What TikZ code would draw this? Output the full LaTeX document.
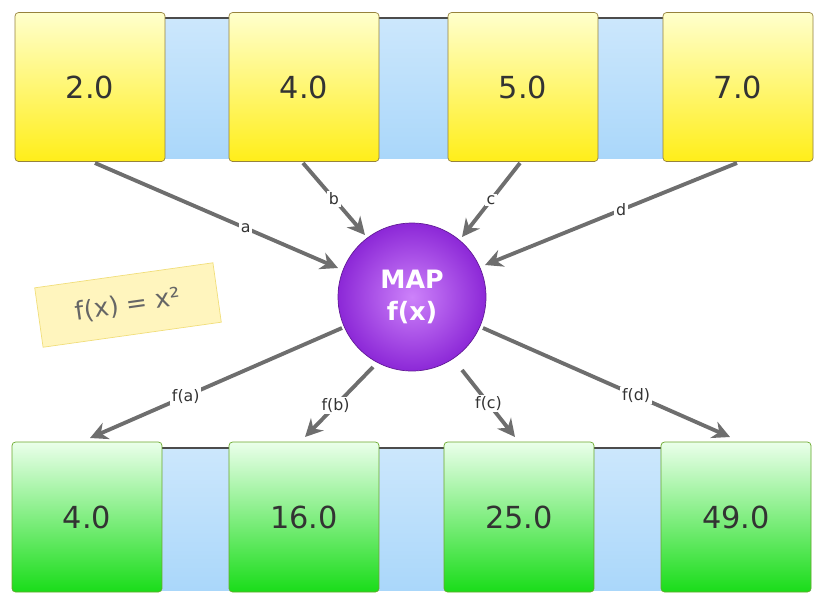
\documentclass[tikz,border=0pt]{standalone}
\usepackage{fontspec}
\setmainfont{DejaVu Sans}
\usetikzlibrary{arrows.meta}
\definecolor{boxedge}{RGB}{150,130,60}
\definecolor{bandblue}{RGB}{170,215,250}
\definecolor{arrowgray}{RGB}{110,110,110}
\definecolor{mapin}{RGB}{205,130,250}
\definecolor{mapout}{RGB}{140,40,215}
\definecolor{notefill}{RGB}{255,245,190}
\tikzset{
  inbox/.style={draw=boxedge, rounded corners=2pt, minimum width=3cm, minimum height=2.98cm,
    top color=yellow!20, bottom color=yellow!85!orange!90!white, font=\LARGE, text=black!80},
  outbox/.style={draw=boxedge!70!green, rounded corners=2pt, minimum width=3cm, minimum height=3cm,
    top color=green!8, bottom color=green!85!black!90, font=\LARGE, text=black!80},
  maparrow/.style={draw=arrowgray, line width=2.2pt, -{Stealth[length=10pt,width=10pt]}},
  tag/.style={fill=white, inner sep=1pt, font=\small, text=black!80}
}
\begin{document}
\begin{tikzpicture}[x=0.02cm, y=-0.02cm]
  \useasboundingbox (0,0) rectangle (834,606);
  % bands behind the boxes
  \fill[top color=bandblue!60, bottom color=bandblue] (15,18) rectangle (813,158);
  \draw[black!70, line width=1pt] (15,18) -- (813,18);
  \fill[top color=bandblue!60, bottom color=bandblue] (12,448) rectangle (811,590);
  \draw[black!70, line width=1pt] (12,448) -- (811,448);
  % input values
  \node[inbox] (in a) at (90,87) {2.0};
  \node[inbox] (in b) at (304,87) {4.0};
  \node[inbox] (in c) at (523,87) {5.0};
  \node[inbox] (in d) at (738,87) {7.0};
  % output values
  \node[outbox] (out a) at (87,517) {4.0};
  \node[outbox] (out b) at (304,517) {16.0};
  \node[outbox] (out c) at (519,517) {25.0};
  \node[outbox] (out d) at (736,517) {49.0};
  % map
  \node[circle, draw=mapout!70!black, minimum size=2.96cm, inner color=mapin, outer color=mapout,
    text=white, font=\Large\bfseries, align=center] (map) at (412,297) {MAP\\f(x)};
  \node[rotate=8, draw=yellow!60!brown!60, fill=notefill, minimum width=3.6cm, minimum height=1.2cm,
    font=\Large, text=black!60] (rule) at (128,305) {f(x) = x²};
  % arrows in
  \draw[maparrow] (95,163) -- node[tag, pos=0.62] {a} (338,268);
  \draw[maparrow] (303,163) -- node[tag, pos=0.5] {b} (365,235);
  \draw[maparrow] (520,163) -- node[tag, pos=0.5] {c} (462,237);
  \draw[maparrow] (737,163) -- node[tag, pos=0.46] {d} (485,265);
  % arrows out
  \draw[maparrow] (342,328) -- node[tag, pos=0.62] {f(a)} (90,438);
  \draw[maparrow] (373,367) -- node[tag, pos=0.55] {f(b)} (305,437);
  \draw[maparrow] (462,370) -- node[tag, pos=0.5] {f(c)} (515,437);
  \draw[maparrow] (483,328) -- node[tag, pos=0.62] {f(d)} (730,437);
\end{tikzpicture}
\end{document}
